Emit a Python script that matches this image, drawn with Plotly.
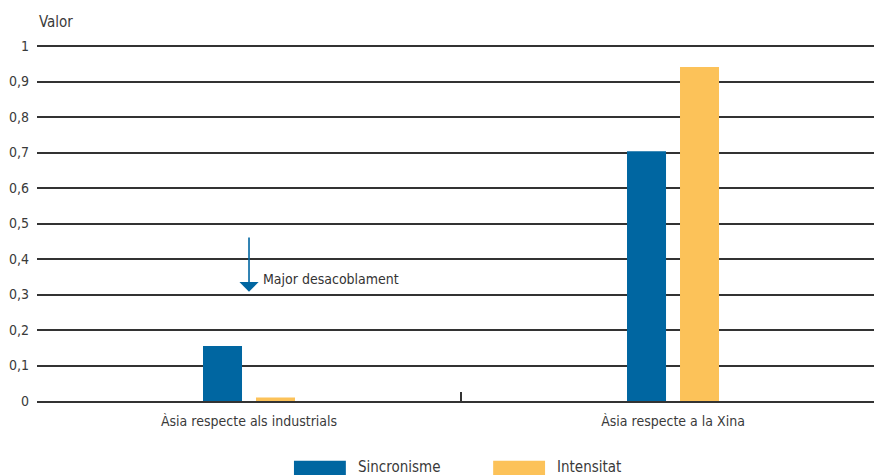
import plotly.graph_objects as go

categories = ["Àsia respecte als industrials", "Àsia respecte a la Xina"]
series_names = ["Sincronisme", "Intensitat"]
sincronisme = [0.155, 0.704]
intensitat = [0.01, 0.941]
y_ticks = [0, 0.1, 0.2, 0.3, 0.4, 0.5, 0.6, 0.7, 0.8, 0.9, 1]
colors = ["#0066a1", "#fcc259"]
FONT = "DejaVu Sans Condensed, Liberation Sans Narrow, sans-serif"
TXT = "#3a3a3a"

fig = go.Figure()
for name, vals, col in zip(series_names, [sincronisme, intensitat], colors):
    fig.add_trace(go.Bar(x=categories, y=vals, name=name, marker_color=col,
                         marker_line_width=0, showlegend=False))

fig.update_layout(
    width=874, height=475,
    margin=dict(l=37, r=0, t=45, b=74),
    paper_bgcolor="white", plot_bgcolor="white",
    separators=",.",
    font=dict(family=FONT, size=14, color=TXT),
    barmode="group", bargap=0.75, bargroupgap=0.264,
)
fig.update_xaxes(
    range=[-0.5, 1.474], showgrid=False, zeroline=False,
    showline=True, linecolor="#333333", linewidth=1.5,
    ticks="inside", tickson="boundaries", ticklen=9, tickcolor="#333333", tickwidth=1.5,
    ticklabelstandoff=6,
    tickfont=dict(family=FONT, size=14, color=TXT),
)
fig.update_yaxes(
    range=[0, 1.003], tickvals=y_ticks, showgrid=True, gridcolor="#333333", gridwidth=1.5,
    zeroline=False, showline=False, ticks="", ticklabelstandoff=7,
    tickfont=dict(family=FONT, size=14, color=TXT),
)

# axis title
fig.add_annotation(xref="paper", yref="paper", x=0, y=1, xanchor="left", yanchor="bottom",
                   yshift=12, text="Valor", showarrow=False,
                   font=dict(family=FONT, size=15, color=TXT))

# arrow annotation
fig.add_annotation(x=0, y=0.308, ax=0, ay=0.465, xref="x", yref="y", axref="x", ayref="y",
                   text="", showarrow=True, arrowhead=1, arrowsize=2.0, arrowwidth=1.6,
                   arrowcolor="#0066a1")
fig.add_annotation(x=0, y=0.344, xref="x", yref="y", xanchor="left", xshift=12,
                   text="Major desacoblament", showarrow=False,
                   font=dict(family=FONT, size=14, color="#333333"))

# manual legend (paper coords relative to plot area)
legend_swatch_x0 = [0.307, 0.545]
for name, col, lx in zip(series_names, colors, legend_swatch_x0):
    fig.add_shape(type="rect", xref="paper", yref="paper",
                  x0=lx, x1=lx + 0.062, y0=-0.215, y1=-0.168,
                  fillcolor=col, line_width=0)
    fig.add_annotation(xref="paper", yref="paper", x=lx + 0.074, y=-0.185,
                       xanchor="left", yanchor="middle", text=name, showarrow=False,
                       font=dict(family=FONT, size=15, color=TXT))

fig.write_html("out.html")
